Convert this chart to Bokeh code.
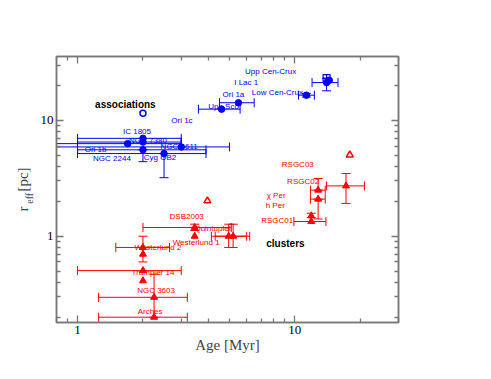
import math
from bokeh.plotting import figure
from bokeh.models import (Range1d, LogAxis, FixedTicker, ColumnDataSource, Label,
                          LabelSet, BasicTickFormatter)
from bokeh.core.properties import value
from bokeh.embed import file_html
from bokeh.resources import INLINE

# ---------------- data: associations (blue) ----------------
assoc_names = ["IC 1805", "NGC 7380", "Ori 1b", "NGC 6611", "NGC 2244", "Cyg OB2",
               "Upp Sco", "Ori 1a", "Low Cen-Crux", "Upp Cen-Crux", "I Lac 1"]
assoc_age = [2.0, 2.0, 1.7, 3.0, 2.0, 2.5, 4.6, 5.5, 11.3, 14.0, 14.4]
assoc_r = [7.0, 6.5, 6.3, 5.9, 5.57, 5.17, 12.5, 14.2, 16.5, 21.2, 22.2]
assoc_age_lo = [1.0, 1.0, 0.6, 0.6, 1.0, 1.0, 3.6, 4.5, 10.4, 12.0, None]
assoc_age_hi = [3.0, 3.0, 3.0, 5.0, 3.9, 3.9, 5.6, 6.5, 12.3, 15.8, None]
assoc_r_lo = [None, None, None, None, 4.4, 3.2, None, None, 15.9, 18.0, None]
assoc_r_hi = [None, None, None, None, 5.57, 5.17, None, None, 17.1, 23.0, None]

assoc_open_circle_name = ["Ori 1c"]
assoc_open_circle_age = [2.0]
assoc_open_circle_r = [11.5]
assoc_open_square_age = [14.0]
assoc_open_square_r = [23.2]

# ---------------- data: clusters (red) ----------------
cl_names = ["DSB2003", "Quintuplet", "Westerlund 1", "", "Westerlund 2", "",
            "Trumpler 14", "", "NGC 3603", "Arches", "RSGC02", "\u03c7 Per",
            "h Per", "RSGC01", ""]
cl_age = [3.46, 4.96, 5.2, 3.46, 2.0, 2.0, 2.0, 2.0, 2.25, 2.25, 12.8, 12.8, 11.9, 11.9, 17.2]
cl_r = [1.19, 1.0, 1.0, 1.0, 0.80, 0.70, 0.505, 0.413, 0.297, 0.20, 2.5, 2.09, 1.5, 1.34, 2.72]
cl_age_lo = [2.0, 4.13, 4.3, None, 1.5, None, 1.0, None, 1.25, 1.25, 11.8, 11.8, None, 9.9, 14.0]
cl_age_hi = [5.1, 6.0, 6.2, None, 2.65, None, 3.0, None, 3.2, 3.2, 13.8, 13.8, None, 13.9, 20.9]
cl_r_lo = [1.12, 0.80, 0.80, None, 0.60, None, None, None, 0.20, None, 2.5, 1.41, 1.45, None, 1.92]
cl_r_hi = [1.27, 1.27, 1.27, None, 1.0, None, None, None, 0.47, None, 3.15, 2.09, 1.58, None, 3.48]

cl_open_name = ["", "RSGC03"]
cl_open_age = [3.96, 17.9]
cl_open_r = [2.02, 5.04]

# ---------------- layout / style (label offsets in px: right, up) ----------------
assoc_dx = [-6, 5, -32, -2, -31, -4, 2, -5, -29, -56, -83]
assoc_dy = [7, 2, -6, 0, -9, -4, 3, 8, 3, 11, -2]
open_circle_dx = [39]
open_circle_dy = [-7]
cl_dx = [-8, -16, -37, 0, 15, 0, 10, 0, 2, -4, -15, -42, -36, -34, 0]
cl_dy = [11, 8, -6, 0, 0, 0, -2, 0, 7, 6, 9, 4, 10, 1, 0]
cl_open_dx = [0, -52]
cl_open_dy = [0, -10]

BLUE = "#0000ff"
RED = "#ff0000"
AXC = "#777777"
SERIF = "Liberation Serif"
SANS = "Liberation Sans"
NB = "\u00a0"

p = figure(x_axis_type="log", y_axis_type="log",
           x_range=Range1d(0.8, 30), y_range=Range1d(0.18, 35.6),
           frame_width=342, frame_height=266,
           min_border_left=56, min_border_top=56, min_border_right=85, min_border_bottom=49,
           output_backend="svg", toolbar_location=None)
p.grid.visible = False
p.outline_line_color = AXC
p.outline_line_width = 1.5
p.background_fill_color = "white"
p.border_fill_color = "white"

xt = FixedTicker(ticks=[1, 10], minor_ticks=[0.8, 0.9, 2, 3, 4, 5, 6, 7, 8, 9, 20, 30])
yt = FixedTicker(ticks=[1, 10], minor_ticks=[0.2, 0.3, 0.4, 0.5, 0.6, 0.7, 0.8, 0.9,
                                              2, 3, 4, 5, 6, 7, 8, 9, 20, 30])


def style_axis(ax, labels=True):
    ax.axis_line_color = AXC
    ax.axis_line_width = 1.5
    ax.major_tick_in = 7
    ax.major_tick_out = 0
    ax.minor_tick_in = 4
    ax.minor_tick_out = 0
    ax.major_tick_line_color = AXC
    ax.minor_tick_line_color = AXC
    ax.major_tick_line_width = 1.3
    ax.minor_tick_line_width = 1.3
    ax.formatter = BasicTickFormatter()
    if labels:
        ax.major_label_text_font = SERIF
        ax.major_label_text_font_size = "13px"
        ax.major_label_text_color = "black"
    else:
        ax.major_label_text_font_size = "0px"
        ax.major_label_text_color = None


p.xaxis.ticker = xt
p.yaxis.ticker = yt
for ax in p.xaxis:
    style_axis(ax)
    ax.major_label_standoff = 3
    ax.axis_label = "Age [Myr]"
    ax.axis_label_text_font = SERIF
    ax.axis_label_text_font_size = "15px"
    ax.axis_label_text_font_style = "normal"
    ax.axis_label_standoff = 0

# main y axis: ticks, tick labels and the subscript "eff" of the label
for ax in p.yaxis:
    style_axis(ax)
    ax.major_label_standoff = 3
    ax.axis_label = "eff" + NB * 7
    ax.axis_label_text_font = SERIF
    ax.axis_label_text_font_size = "10px"
    ax.axis_label_text_font_style = "normal"
    ax.axis_label_standoff = 3

# outer left axis carrying "r    [pc]"
outer = LogAxis(ticker=yt)
outer.axis_line_color = None
outer.major_tick_line_color = None
outer.minor_tick_line_color = None
outer.major_tick_in = 0
outer.major_tick_out = 0
outer.minor_tick_in = 0
outer.minor_tick_out = 0
outer.major_label_text_font_size = "0px"
outer.major_label_text_color = None
outer.major_label_standoff = 0
outer.axis_label = "r" + NB * 4 + "[pc]"
outer.axis_label_text_font = SERIF
outer.axis_label_text_font_size = "15px"
outer.axis_label_text_font_style = "normal"
outer.axis_label_standoff = -10
p.add_layout(outer, "left")

top = LogAxis(ticker=xt)
style_axis(top, labels=False)
p.add_layout(top, "above")
right = LogAxis(ticker=yt)
style_axis(right, labels=False)
p.add_layout(right, "right")


def rows(*cols):
    keep = [i for i in range(len(cols[0])) if all(c[i] is not None for c in cols)]
    return [[c[i] for i in keep] for c in cols]


def error_bars(xs, ys, xlo, xhi, ylo, yhi, color):
    # horizontal bars
    x_, y_, lo, hi = rows(xs, ys, xlo, xhi)
    if x_:
        src = ColumnDataSource(dict(y=y_, lo=lo, hi=hi))
        p.segment(x0="lo", y0="y", x1="hi", y1="y", source=src, line_color=color, line_width=1)
        p.scatter(x="lo", y="y", source=src, marker="dash", angle=math.pi / 2, size=9,
                  line_color=color, line_width=1)
        p.scatter(x="hi", y="y", source=src, marker="dash", angle=math.pi / 2, size=9,
                  line_color=color, line_width=1)
    # vertical bars
    x_, y_, lo, hi = rows(xs, ys, ylo, yhi)
    if x_:
        src = ColumnDataSource(dict(x=x_, lo=lo, hi=hi))
        p.segment(x0="x", y0="lo", x1="x", y1="hi", source=src, line_color=color, line_width=1)
        p.scatter(x="x", y="lo", source=src, marker="dash", size=9, line_color=color, line_width=1)
        p.scatter(x="x", y="hi", source=src, marker="dash", size=9, line_color=color, line_width=1)


error_bars(assoc_age, assoc_r, assoc_age_lo, assoc_age_hi, assoc_r_lo, assoc_r_hi, BLUE)
error_bars(cl_age, cl_r, cl_age_lo, cl_age_hi, cl_r_lo, cl_r_hi, RED)

# markers
a_src = ColumnDataSource(dict(x=assoc_age, y=assoc_r, name=assoc_names, dx=assoc_dx, dy=assoc_dy))
p.scatter(x="x", y="y", source=a_src, marker="circle", size=6.5, fill_color=BLUE, line_color=BLUE)
oc_src = ColumnDataSource(dict(x=assoc_open_circle_age, y=assoc_open_circle_r,
                               name=assoc_open_circle_name, dx=open_circle_dx, dy=open_circle_dy))
p.scatter(x="x", y="y", source=oc_src, marker="circle", size=6, fill_color=None,
          line_color=BLUE, line_width=1.5)
p.scatter(x=assoc_open_square_age, y=assoc_open_square_r, marker="square_cross", size=7,
          fill_color=None, line_color=BLUE, line_width=1.2)

c_src = ColumnDataSource(dict(x=cl_age, y=cl_r, name=cl_names, dx=cl_dx, dy=cl_dy))
p.scatter(x="x", y="y", source=c_src, marker="triangle", size=7, fill_color=RED, line_color=RED)
co_src = ColumnDataSource(dict(x=cl_open_age, y=cl_open_r, name=cl_open_name,
                               dx=cl_open_dx, dy=cl_open_dy))
p.scatter(x="x", y="y", source=co_src, marker="triangle", size=7, fill_color=None,
          line_color=RED, line_width=1.5)

# point labels
for src, col in [(a_src, BLUE), (oc_src, BLUE), (c_src, RED), (co_src, RED)]:
    p.add_layout(LabelSet(x="x", y="y", text="name", source=src, x_offset="dx", y_offset="dy",
                          text_align="center", text_baseline="middle",
                          text_font=value(SANS), text_font_size=value("8px"),
                          text_color=value(col)))

# group labels
p.add_layout(Label(x=1.66, y=13.8, text="associations", text_align="center",
                   text_baseline="middle", text_font=SANS, text_font_size="10px",
                   text_font_style="bold", text_color="black"))
p.add_layout(Label(x=9.05, y=0.857, text="clusters", text_align="center",
                   text_baseline="middle", text_font=SANS, text_font_size="10px",
                   text_font_style="bold", text_color="black"))

open("out.html", "w").write(file_html(p, INLINE))
